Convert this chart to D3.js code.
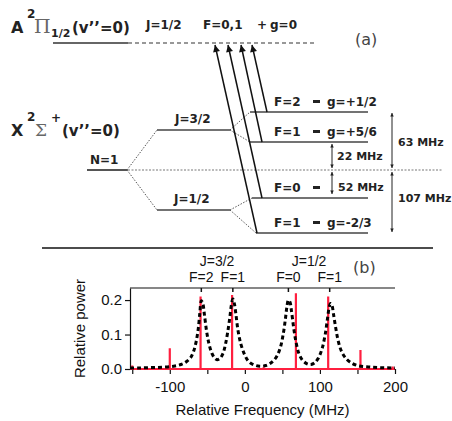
<!DOCTYPE html>
<html>
<head>
<meta charset="utf-8">
<script src="https://cdn.jsdelivr.net/npm/d3@7"></script>
<style>
  html, body { margin: 0; padding: 0; background: #fff; }
  svg { display: block; }
</style>
</head>
<body>
<svg id="chart" width="452" height="421"></svg>
<script>
// ---- data (panel b) ----
const specFreq = [-153, -140, -125, -110, -95, -85, -78, -72, -68, -65, -62, -60, -58, -56, -54, -51, -48, -44, -40, -37,
  -33, -29, -26, -23, -20, -18, -16, -14, -12, -9, -5, 0, 5, 12, 20, 28, 35, 42, 47, 51, 54, 56, 58, 60, 62, 65, 68, 72,
  77, 83, 88, 93, 98, 103, 107, 110, 112, 114, 116, 118, 121, 124, 128, 133, 140, 150, 165, 180, 200];
const specPower = [0.003, 0.003, 0.004, 0.005, 0.008, 0.013, 0.021, 0.034, 0.053, 0.078, 0.118, 0.162, 0.198, 0.19, 0.16,
  0.11, 0.075, 0.046, 0.031, 0.027, 0.031, 0.046, 0.07, 0.105, 0.15, 0.185, 0.203, 0.19, 0.16, 0.11, 0.07, 0.04, 0.022,
  0.012, 0.008, 0.01, 0.018, 0.035, 0.06, 0.1, 0.145, 0.18, 0.2, 0.195, 0.17, 0.12, 0.08, 0.045, 0.025, 0.015, 0.013,
  0.018, 0.032, 0.06, 0.1, 0.145, 0.175, 0.19, 0.185, 0.16, 0.12, 0.085, 0.055, 0.035, 0.02, 0.01, 0.006, 0.004, 0.003];
const stickFreq = [-150, -100, -59, -17, 25, 68, 111, 154, 197];
const stickPower = [0.01, 0.06, 0.21, 0.215, 0.005, 0.22, 0.21, 0.055, 0.007];
const peakFreq = [-58, -16, 58, 113];
const peakLabels = ["F=2", "F=1", "F=0", "F=1"];
const groupLabels = ["J=3/2", "J=1/2"];
const xTicks = [-150, -100, -50, 0, 50, 100, 150, 200];
const yTicks = [0, 0.1, 0.2];

// ---- data (panel a) ----
const hfLabels = ["F=2", "F=1", "F=0", "F=1"];
const gLabels = ["g=+1/2", "g=+5/6", "", "g=-2/3"];
const splitLabels = ["63 MHz", "22 MHz", "52 MHz", "107 MHz"];

const svg = d3.select("#chart");
const defs = svg.append("defs");
defs.append("marker").attr("id", "head").attr("viewBox", "0 0 10 10")
  .attr("refX", 10).attr("refY", 5).attr("markerWidth", 10).attr("markerHeight", 7)
  .attr("markerUnits", "userSpaceOnUse").attr("orient", "auto")
  .append("path").attr("d", "M0,0L10,5L0,10Z").attr("fill", "#111");
defs.append("marker").attr("id", "small").attr("viewBox", "0 0 10 10")
  .attr("refX", 10).attr("refY", 5).attr("markerWidth", 4).attr("markerHeight", 3.5)
  .attr("markerUnits", "userSpaceOnUse").attr("orient", "auto-start-reverse")
  .append("path").attr("d", "M0,0L10,5L0,10Z").attr("fill", "#222");

// ================= panel (a): level diagram =================
const g = svg.append("g").attr("font-family", "DejaVu Sans").attr("font-weight", "bold").attr("fill", "#222");
const seg = (x1, y1, x2, y2, stroke, w, dash) => g.append("line")
  .attr("x1", x1).attr("y1", y1).attr("x2", x2).attr("y2", y2)
  .attr("stroke", stroke).attr("stroke-width", w).attr("stroke-dasharray", dash || null);
const txt = (x, y, s, size, opts = {}) => g.append("text").attr("x", x).attr("y", y)
  .attr("font-size", size).attr("font-family", opts.family || null).attr("font-weight", opts.weight || null)
  .attr("fill", opts.fill || null).text(s);

// state headers
txt(11, 33, "A", 16);
txt(27, 18, "2", 12);
txt(34, 33, "\u03A0", 19, { family: "DejaVu Serif", weight: "normal", fill: "#666" });
txt(51, 37, "1/2", 11);
txt(72, 33, "(v\u2019\u2019=0)", 15);
txt(11, 136, "X", 16);
txt(27, 121, "2", 12);
txt(35, 136, "\u03A3", 17, { family: "DejaVu Serif", weight: "normal", fill: "#666" });
txt(51, 122, "+", 12);
txt(62, 136, "(v\u2019\u2019=0)", 15);

// excited state
seg(53, 43, 128, 43, "#666", 2);
seg(128, 43, 315, 43, "#777", 1.5, "4,3");
txt(146, 29, "J=1/2", 12);
txt(203, 29, "F=0,1", 12);
txt(257, 29, "+", 12);
txt(270, 29, "g=0", 12);
txt(355, 45, "(a)", 16, { weight: "normal", fill: "#444" });

// ground state structure
const yN = 170, yJ = [130, 210], yF = [112, 142, 198, 233], xF0 = [250, 250, 252, 256];
seg(87, yN, 127, yN, "#555", 2);
txt(90, 164, "N=1", 12);
seg(128, yN, 442, yN, "#777", 1, "2,1.5");
yJ.forEach((y, i) => {
  seg(127, yN, 157, y, "#555", 1, "1.5,1.5");
  seg(157, y, 230, y, "#444", 1.5);
  txt(i === 0 ? 175 : 174, y - 7, i === 0 ? "J=3/2" : "J=1/2", 12);
});
yF.forEach((y, i) => {
  seg(230, yJ[i < 2 ? 0 : 1], xF0[i], y, "#555", 1, "1.5,1.5");
  seg(xF0[i], y, 368, y, "#444", 1.5);
  txt(274, y - 6, hfLabels[i], 12);
  g.append("rect").attr("x", 313).attr("y", y - 12).attr("width", 7).attr("height", 3).attr("fill", "#222");
  if (gLabels[i]) txt(327, y - 6, gLabels[i], 12);
});

// transition arrows (parallel)
const tipX = [215, 228, 241, 252], tailX = [257, 262, 262, 267], tailLevel = [3, 2, 1, 0];
tipX.forEach((x, i) => {
  g.append("line").attr("x1", tailX[i]).attr("y1", yF[tailLevel[i]]).attr("x2", x).attr("y2", 45)
    .attr("stroke", "#111").attr("stroke-width", 1.5).attr("marker-end", "url(#head)");
});

// splitting arrows
const splits = [[392, 113, 168], [332, 144, 168], [332, 172, 194], [392, 172, 232]];
const splitText = [[398, 146], [337, 160], [338, 191], [398, 202]];
splits.forEach(([x, y1, y2], i) => {
  g.append("line").attr("x1", x).attr("y1", y1).attr("x2", x).attr("y2", y2)
    .attr("stroke", "#222").attr("stroke-width", 1)
    .attr("marker-start", "url(#small)").attr("marker-end", "url(#small)");
  txt(splitText[i][0], splitText[i][1], splitLabels[i], 11);
});

// separator
svg.append("line").attr("x1", 42).attr("x2", 433).attr("y1", 248).attr("y2", 248)
  .attr("stroke", "#111").attr("stroke-width", 1.5);

// ================= panel (b): spectrum =================
const x = d3.scaleLinear().domain([-153, 200]).range([130, 395]);
const y = d3.scaleLinear().domain([0, 0.235]).range([369, 288]);
const p = svg.append("g").attr("font-family", "Liberation Sans, Arial, sans-serif");

const xAxis = p.append("g").attr("transform", `translate(0,${y(0)})`)
  .call(d3.axisBottom(x).tickValues(xTicks).tickFormat(d => d % 100 === 0 ? d : "").tickSize(5).tickSizeOuter(0));
const yAxis = p.append("g").attr("transform", `translate(${x.range()[0]},0)`)
  .call(d3.axisLeft(y).tickValues(yTicks).tickFormat(d3.format(".1f")).tickSize(5).tickSizeOuter(0));
[xAxis, yAxis].forEach(a => {
  a.selectAll("text").attr("font-size", 15).attr("fill", "#111").attr("font-family", "Liberation Sans, Arial, sans-serif");
  a.selectAll("path, line").attr("stroke", "#111").attr("stroke-width", 1.2);
});
xAxis.selectAll("text").attr("dy", "1.0em");
p.append("line").attr("x1", x.range()[0]).attr("x2", x.range()[1]).attr("y1", y.range()[1]).attr("y2", y.range()[1])
  .attr("stroke", "#111").attr("stroke-width", 1.2);

// peak markers at top frame
p.selectAll(".pk").data(peakFreq).enter().append("line")
  .attr("x1", d => x(d)).attr("x2", d => x(d)).attr("y1", y.range()[1]).attr("y2", y.range()[1] + 4)
  .attr("stroke", "#111").attr("stroke-width", 1.5);

// stick spectrum (red)
const stickPts = [[x.domain()[0], 0]];
stickFreq.forEach((f, i) => { stickPts.push([f, 0], [f, stickPower[i]], [f, 0]); });
stickPts.push([x.domain()[1], 0]);
p.append("path").datum(stickPts)
  .attr("d", d3.line().x(d => x(d[0])).y(d => y(d[1])))
  .attr("fill", "none").attr("stroke", "#ff1f3f").attr("stroke-width", 2.2);

// dashed broadened spectrum
p.append("path").datum(specFreq.map((f, i) => [f, specPower[i]]))
  .attr("d", d3.line().curve(d3.curveCatmullRom).x(d => x(d[0])).y(d => y(d[1])))
  .attr("fill", "none").attr("stroke", "#000").attr("stroke-width", 3).attr("stroke-dasharray", "4,3");

// labels above
p.selectAll(".pl").data(peakFreq).enter().append("text")
  .attr("x", d => x(d)).attr("y", 282).attr("text-anchor", "middle")
  .attr("font-size", 14).attr("fill", "#111").text((d, i) => peakLabels[i]);
groupLabels.forEach((s, i) => {
  p.append("text").attr("x", x((peakFreq[2 * i] + peakFreq[2 * i + 1]) / 2)).attr("y", 266)
    .attr("text-anchor", "middle").attr("font-size", 14).attr("fill", "#111").text(s);
});
p.append("text").attr("x", 353).attr("y", 273).attr("font-size", 16).attr("fill", "#444")
  .attr("font-family", "DejaVu Sans").text("(b)");

// axis titles
p.append("text").attr("x", (x.range()[0] + x.range()[1]) / 2).attr("y", 415).attr("text-anchor", "middle")
  .attr("font-size", 15).attr("fill", "#111").text("Relative Frequency (MHz)");
p.append("text").attr("transform", `translate(85,${(y.range()[0] + y.range()[1]) / 2}) rotate(-90)`)
  .attr("text-anchor", "middle").attr("font-size", 15).attr("fill", "#111").text("Relative power");
</script>
</body>
</html>
